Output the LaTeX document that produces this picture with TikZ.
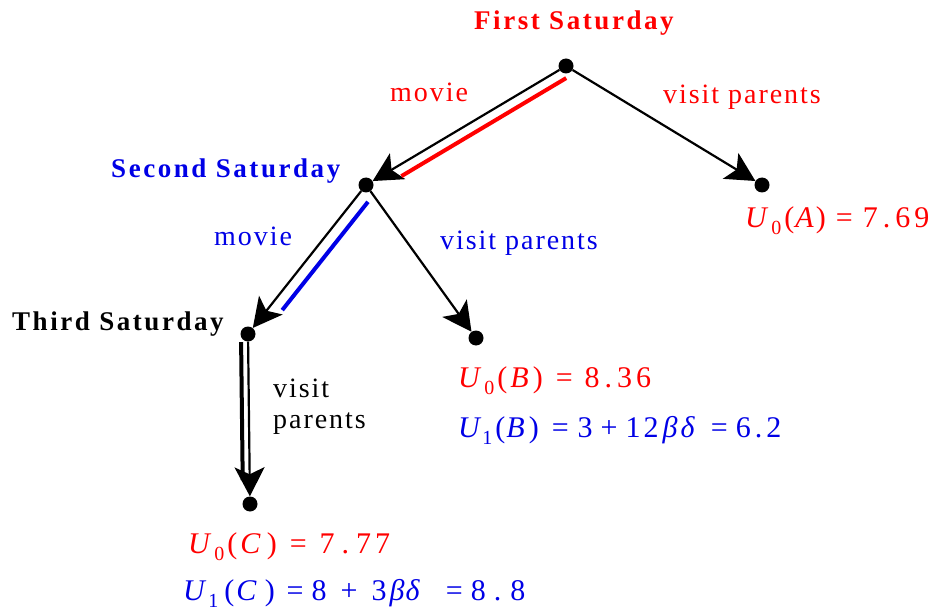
\documentclass[tikz,border=0pt]{standalone}
\usepackage{fontspec}
\setmainfont{Liberation Serif}
\newfontfamily\trackfont{Liberation Serif}[LetterSpace=9.5]
\newfontfamily\trackfontb{Liberation Serif}[LetterSpace=7]
\usetikzlibrary{arrows.meta,calc}
\definecolor{tred}{RGB}{255,0,0}
\definecolor{tblue}{RGB}{0,0,230}
\newcommand\SubIdx[1]{\raisebox{-7pt}{\fontsize{20}{20}\selectfont #1}}
\begin{document}
\begin{tikzpicture}[x=1pt,y=-1pt,
  every node/.style={inner sep=0pt},
  lbl/.style={anchor=base west, font=\fontsize{28}{31}\selectfont\trackfontb},
  mth/.style={anchor=base west, font=\fontsize{30}{33}\selectfont},
  title/.style={anchor=base west, font=\fontsize{27}{31}\selectfont\trackfont\bfseries},
  dot/.style={circle, fill=black, minimum size=15pt},
  arr/.style={line width=2.2pt, -{Stealth[length=29pt,width=30pt,inset=7pt]}},
  hl/.style={line width=4pt}
]
\useasboundingbox (0,0) rectangle (930,615);
% dots
\node[dot] (s1) at (566,66) {};
\node[dot] (s2) at (366,185) {};
\node[dot] (a) at (762,185) {};
\node[dot] (s3) at (248,334) {};
\node[dot] (b) at (476,338) {};
\node[dot] (c) at (250,504) {};
% edges
\draw[arr] (s1) -- (s2);
\draw[arr] (s1) -- (a);
\draw[arr] (s2) -- (s3);
\draw[arr] (s2) -- (b);
\draw[arr] (s3) -- (c);
% highlight lines
\draw[hl, tred] ($(s1)!6pt!(s2)!10.5pt!90:(s2)$) -- ($(s2)!35pt!(s1)!10.5pt!-90:(s1)$);
\draw[hl, tblue] ($(s2)!12pt!(s3)!12pt!90:(s3)$) -- ($(s3)!40pt!(s2)!12pt!-90:(s2)$);
\draw[hl, black] ($(s3)!8pt!(c)!7pt!-90:(c)$) -- ($(c)!24pt!(s3)!7pt!90:(s3)$);
% titles
\node[title, tred] (t1) at (474,30) {First Saturday};
\node[title, tblue] (t2) at (111,178) {Second Saturday};
\node[title, black] (t3) at (12,330) {Third Saturday};
% edge labels
\node[lbl, tred] (m1) at (390,102) {movie};
\node[lbl, tred] (v1) at (663,104) {visit parents};
\node[lbl, tblue] (m2) at (214,246) {movie};
\node[lbl, tblue] (v2) at (440,250) {visit parents};
\node[lbl, black, align=left] (v3) at (273,428) {visit\\parents};
% utilities
\node[mth, tred] (ua) at (745,228) {\textit{U}\kern3pt\SubIdx{0}\kern3pt(\kern1pt\textit{A}\kern2pt)\kern10pt=\kern10pt7\kern5pt.\kern5pt6\kern4pt9};
\node[mth, tred] (ub0) at (458,387) {\textit{U}\kern3pt\SubIdx{0}\kern3pt(\kern3pt\textit{B}\kern4pt)\kern13pt=\kern12pt8\kern5pt.\kern5pt3\kern4pt6};
\node[mth, tblue] (ub1) at (458,437) {\textit{U}\kern1pt\SubIdx{1}\kern3pt(\kern1pt\textit{B}\kern4pt)\kern13pt=\kern9pt3\kern8pt+\kern8pt1\kern3pt2\kern4pt\textit{β}\kern3pt\textit{δ}\kern16pt=\kern8pt6\kern4pt.\kern4pt2};
\node[mth, tred] (uc0) at (188,553) {\textit{U}\kern3pt\SubIdx{0}\kern3pt(\kern3pt\textit{C}\kern6pt)\kern13pt=\kern13pt7\kern7pt.\kern7pt7\kern4pt7};
\node[mth, tblue] (uc1) at (183,600) {\textit{U}\kern2pt\SubIdx{1}\kern6pt(\kern2pt\textit{C}\kern8pt)\kern12pt=\kern8pt8\kern14pt+\kern14pt3\kern3pt\textit{β}\kern1pt\textit{δ}\kern26pt=\kern8pt8\kern8pt.\kern9pt8};
\end{tikzpicture}
\end{document}
